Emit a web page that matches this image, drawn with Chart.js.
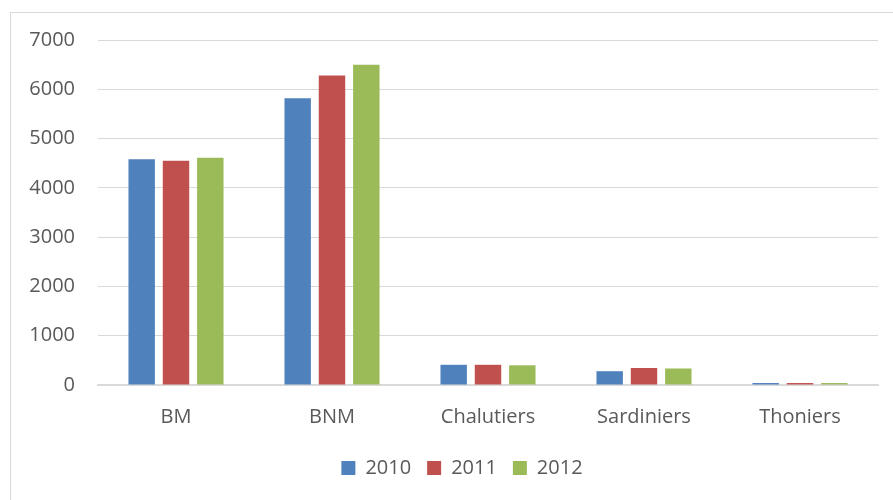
<!DOCTYPE html>
<html><head><meta charset="utf-8">
<script src="https://cdn.jsdelivr.net/npm/chart.js@4/dist/chart.umd.min.js"></script>
<style>
html,body{margin:0;padding:0;background:#fff;}
#frame{position:absolute;left:10px;top:12px;width:900px;height:500px;border:1px solid #d9d9d9;box-sizing:border-box;}
#wrap{position:absolute;left:0;top:0;width:893px;height:500px;}
</style></head>
<body>
<div id="frame"></div>
<div id="wrap"><canvas id="c" width="893" height="500"></canvas></div>
<script>
const categories = ['BM', 'BNM', 'Chalutiers', 'Sardiniers', 'Thoniers'];
const seriesNames = ['2010', '2011', '2012'];
const values2010 = [4580, 5820, 410, 280, 40];
const values2011 = [4550, 6280, 410, 345, 40];
const values2012 = [4610, 6500, 400, 335, 40];
const yTicks = [0, 1000, 2000, 3000, 4000, 5000, 6000, 7000];
const colors = ['#4F81BD', '#C0504D', '#9BBB59'];
const font = {family: "'Open Sans', sans-serif", size: 20};
const txt = '#595959';

const legendShift = {
  id: 'legendShift',
  beforeDraw(chart) { if (chart.legend) { chart.legend.left = 46; chart.legend.right = 878; } }
};

new Chart(document.getElementById('c'), {
  type: 'bar',
  data: {
    labels: categories,
    datasets: [values2010, values2011, values2012].map((v, i) => ({
      label: seriesNames[i], data: v, backgroundColor: colors[i],
      borderWidth: 0,
      categoryPercentage: 0.66, barPercentage: 0.77
    }))
  },
  plugins: [legendShift],
  options: {
    responsive: false, animation: false,
    layout: {padding: {top: 40, right: 15, bottom: 12, left: 0}},
    plugins: {
      tooltip: {enabled: false},
      legend: {
        position: 'bottom',
        labels: {font: font, color: txt, boxWidth: 14, boxHeight: 14, padding: 16}
      }
    },
    scales: {
      x: {
        grid: {display: false, drawTicks: false},
        border: {display: true, color: '#d9d9d9', width: 2},
        ticks: {font: font, color: txt, padding: 20},
        afterFit: s => { s.height = 57; }
      },
      y: {
        min: 0, max: 7000,
        afterBuildTicks: s => { s.ticks = yTicks.map(v => ({value: v})); },
        grid: {color: '#d9d9d9', drawTicks: false},
        border: {display: false},
        ticks: {font: font, color: txt, padding: 23, callback: v => String(v)},
        afterFit: s => { s.width = 98; }
      }
    }
  }
});
</script>
</body></html>
